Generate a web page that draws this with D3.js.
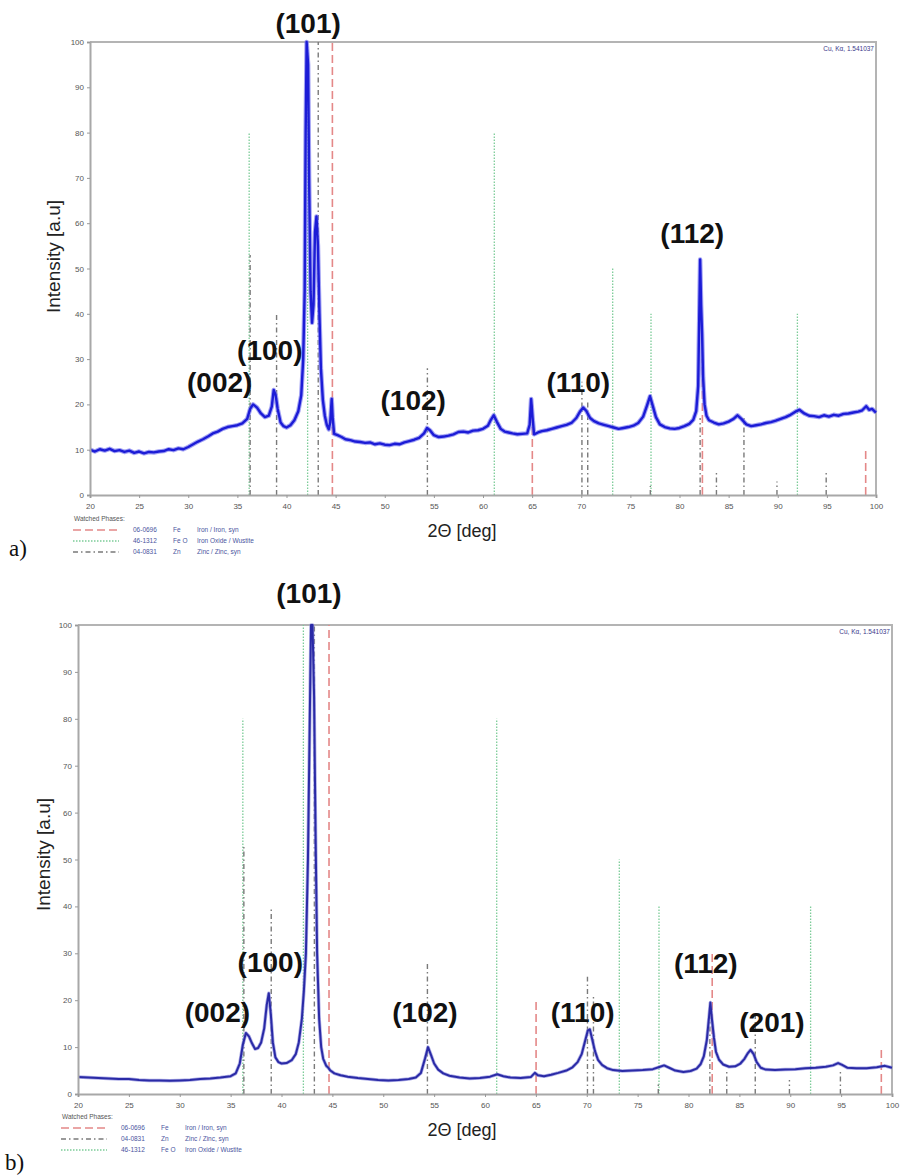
<!DOCTYPE html>
<html>
<head>
<meta charset="utf-8">
<script src="https://cdn.jsdelivr.net/npm/d3@7"></script>
<style>
  body { margin: 0; background: #fff; }
  svg { display: block; }
</style>
</head>
<body>
<div id="chart"></div>
<script>
// ---------------------------
// DATA
// ---------------------------

const thetaTicks = [20, 25, 30, 35, 40, 45, 50, 55, 60, 65, 70, 75, 80, 85, 90, 95, 100];
const intensityTicks = [0, 10, 20, 30, 40, 50, 60, 70, 80, 90, 100];

// sample a) scan : [2theta, intensity]
const scanA = [
  [20,10.0],[20.5,9.6],[21,10.1],[21.5,9.8],[22,10.2],[22.5,9.7],[23,9.9],[23.5,9.5],[24,9.8],[24.5,9.3],
  [25,9.6],[25.5,9.2],[26,9.5],[26.5,9.4],[27,9.6],[27.5,9.7],[28,10.1],[28.5,9.9],[29,10.3],[29.5,10.1],
  [30,10.6],[30.5,11.2],[31,11.8],[31.5,12.3],[32,12.9],[32.5,13.6],[33,14.0],[33.5,14.6],[34,15.0],[34.5,15.2],
  [35,15.4],[35.5,15.8],[36,16.8],[36.3,19.0],[36.6,20.0],[37,19.3],[37.4,18.0],[37.8,17.2],[38.2,17.5],[38.5,19.5],
  [38.7,23.2],[38.9,22.0],[39.1,19.0],[39.4,16.0],[39.7,15.2],[40,14.9],[40.4,15.4],[40.8,16.5],[41.2,18.5],[41.5,22],
  [41.7,30],[41.85,45],[41.95,80],[42.05,100],[42.2,95],[42.3,70],[42.45,45],[42.6,38],[42.75,42],[42.9,58],
  [43.05,61.5],[43.2,55],[43.35,40],[43.5,28],[43.7,21],[43.9,17.5],[44.1,15.5],[44.3,14.5],[44.45,16],[44.6,21.2],
  [44.7,17],[44.85,13.5],[45.2,13.2],[45.6,12.8],[46,12.3],[46.5,12.1],[47,11.8],[47.5,11.7],[48,11.5],[48.5,11.6],
  [49,11.2],[49.5,11.4],[50,11.1],[50.5,11.0],[51,11.3],[51.5,11.2],[52,11.6],[52.5,11.9],[53,12.2],[53.5,12.6],
  [54,13.6],[54.3,14.8],[54.6,14.3],[55,13.2],[55.5,12.8],[56,12.9],[56.5,13.1],[57,13.4],[57.5,13.9],[58,14.0],
  [58.5,13.8],[59,14.2],[59.5,14.3],[60,14.6],[60.5,15.3],[60.8,16.6],[61.1,17.6],[61.4,16.2],[61.8,14.6],[62.2,14.0],
  [62.6,13.8],[63,13.6],[63.5,13.4],[64,13.5],[64.5,13.6],[64.75,15.5],[64.9,21.2],[65.05,17],[65.2,13.4],[65.6,13.8],
  [66,14.1],[66.5,14.3],[67,14.6],[67.5,14.9],[68,15.2],[68.5,15.5],[69,15.9],[69.5,17.0],[69.9,18.5],[70.2,19.3],
  [70.5,18.6],[70.9,17.0],[71.3,16.3],[71.8,15.8],[72.3,15.5],[72.8,15.2],[73.3,14.9],[73.8,14.6],[74.3,14.8],[74.8,15.0],
  [75.3,15.3],[75.8,15.9],[76.3,17.3],[76.7,19.8],[77.0,21.8],[77.3,19.5],[77.6,17.2],[78,15.6],[78.5,15.0],[79,14.7],
  [79.5,14.6],[80,14.8],[80.5,15.2],[81,15.7],[81.4,16.6],[81.7,18.5],[81.9,24],[82.0,38],[82.1,52],[82.2,42],
  [82.3,35.5],[82.4,26],[82.55,20],[82.75,17.5],[83,16.5],[83.5,16],[84,15.6],[84.5,15.8],[85,16.2],[85.5,16.8],
  [85.9,17.6],[86.3,16.8],[86.8,15.6],[87.3,15.2],[87.8,15.4],[88.3,15.6],[88.8,15.9],[89.3,16.1],[89.8,16.4],[90.3,16.8],
  [90.8,17.2],[91.3,17.7],[91.8,18.4],[92.2,18.8],[92.7,18.0],[93.2,17.5],[93.7,17.4],[94.2,17.2],[94.7,17.6],[95.2,17.3],
  [95.7,17.7],[96.2,17.5],[96.7,17.9],[97.2,18.0],[97.7,18.2],[98.2,18.4],[98.6,18.7],[99,19.6],[99.3,18.8],[99.6,19.0],
  [100,18.2]
];

// sample b) scan
const scanB = [
  [20,3.6],[21,3.5],[22,3.4],[23,3.3],[24,3.2],[25,3.2],[26,3.0],[27,2.9],[28,2.9],[29,2.8],
  [30,2.9],[31,3.0],[32,3.2],[33,3.3],[34,3.5],[35,3.8],[35.5,4.4],[35.9,6.5],[36.2,10.5],[36.5,13.0],
  [36.8,12.3],[37.1,10.8],[37.4,9.6],[37.7,9.8],[38.0,11.0],[38.3,14],[38.55,19],[38.75,21.5],[38.95,17],[39.15,11],
  [39.4,7.8],[39.7,6.8],[40,6.5],[40.5,6.6],[41,7.2],[41.4,8.5],[41.7,11],[42.0,16],[42.2,22],[42.4,30],
  [42.6,50],[42.75,75],[42.9,100],[43.05,100],[43.2,85],[43.35,55],[43.5,30],[43.7,16],[43.9,10],[44.1,7.5],
  [44.4,6],[44.6,5.6],[44.8,5.0],[45.2,4.4],[45.8,4.0],[46.5,3.7],[47.5,3.4],[48.5,3.2],[49.5,3.0],[50.5,2.9],
  [51.5,3.0],[52.5,3.2],[53.2,3.5],[53.7,4.5],[54.1,7.5],[54.4,10.0],[54.7,8.3],[55.0,6.5],[55.4,5.2],[55.9,4.4],
  [56.5,3.9],[57.5,3.5],[58.5,3.3],[59.5,3.4],[60.5,3.7],[61.2,4.2],[61.8,3.8],[62.5,3.5],[63.5,3.4],[64.5,3.6],
  [64.9,4.5],[65.2,4.0],[65.8,3.8],[66.5,4.1],[67.2,4.5],[68,5.0],[68.6,5.7],[69.1,6.8],[69.5,8.5],[69.8,11],
  [70.1,13.5],[70.3,13.8],[70.5,12],[70.8,9.2],[71.1,7.3],[71.5,6.2],[72,5.5],[72.6,5.1],[73.5,4.9],[74.5,5.0],
  [75.5,5.1],[76.5,5.3],[77.2,5.8],[77.6,6.1],[78.1,5.6],[78.7,5.0],[79.5,4.7],[80.2,4.9],[80.8,5.4],[81.2,6.4],
  [81.5,8],[81.8,11.5],[82.0,16],[82.15,19.5],[82.3,16],[82.5,12],[82.7,9],[83,7.3],[83.4,6.3],[84,5.8],
  [84.6,5.9],[85.1,6.5],[85.5,7.5],[85.8,8.6],[86.1,9.4],[86.4,8.5],[86.7,6.8],[87.1,5.6],[87.6,5.2],[88.5,5.1],
  [89.5,5.2],[90.5,5.3],[91.5,5.5],[92.5,5.6],[93.5,5.8],[94.2,6.1],[94.7,6.6],[95.1,6.2],[95.6,5.6],[96.5,5.5],
  [97.5,5.5],[98.5,5.7],[99.3,6.0],[100,5.6]
];

// reference patterns (stick positions / relative intensity)
const feSticks  = [[44.67,100],[65.02,20],[82.33,30],[98.95,10]];
const znSticks  = [[36.30,53],[38.99,40],[43.23,100],[54.34,28],[70.07,25],[70.66,21],[77.03,2],
                   [82.10,17],[83.76,5],[86.56,17],[89.92,3],[94.93,5]];
const feoSticks = [[36.2,80],[42.15,100],[61.15,80],[73.2,50],[77.1,40],[92.0,40]];

// phase cards for the legends
const phaseFe  = { code: "06-0696", el: "Fe",   name: "Iron / Iron, syn" };
const phaseZn  = { code: "04-0831", el: "Zn",   name: "Zinc / Zinc, syn" };
const phaseFeO = { code: "46-1312", el: "Fe O", name: "Iron Oxide / Wustite" };

// Miller index labels: [text, 2theta, intensity level of baseline]
const hklA = [["(101)",42.2,102],["(100)",38.3,29.8],["(002)",33.2,22.7],["(102)",52.9,18.8],
              ["(110)",69.7,22.7],["(112)",81.3,55.6]];
const hklB = [["(101)",42.7,104.7],["(100)",38.9,26.0],["(002)",33.7,15.4],["(102)",54.1,15.4],
              ["(110)",69.6,15.4],["(112)",81.7,25.8],["(201)",88.2,13.2]];

// ---------------------------
// DRAWING
// ---------------------------

const svg = d3.select("#chart").append("svg")
  .attr("width", 900)
  .attr("height", 1176);

svg.append("rect").attr("width", 900).attr("height", 1176).attr("fill", "#fff");

const styles = {
  fe:  { color: "#e48888", width: 1.6, dash: "8,4" },
  feo: { color: "#7ccc98", width: 1.3, dash: "1.5,1.5" },
  zn:  { color: "#7a7a7a", width: 1.4, dash: "5,3,1.5,3" }
};

function drawPanel(p) {
  const x = d3.scaleLinear().domain([20, 100]).range([p.left, p.right]);
  const y = d3.scaleLinear().domain([0, 100]).range([p.bottom, p.top]);
  const g = svg.append("g");

  // frame (top + right)
  g.append("path")
    .attr("d", `M${p.left},${p.top}H${p.right}V${p.bottom}`)
    .attr("fill", "none")
    .attr("stroke", "#b4b4b4")
    .attr("stroke-width", 2);

  // reference sticks
  p.sticks.forEach(s => {
    g.append("g").selectAll("line")
      .data(s.data)
      .enter().append("line")
      .attr("x1", d => x(d[0])).attr("x2", d => x(d[0]))
      .attr("y1", y(0)).attr("y2", d => y(d[1]))
      .attr("stroke", styles[s.key].color)
      .attr("stroke-width", styles[s.key].width)
      .attr("stroke-dasharray", styles[s.key].dash);
  });

  // measured pattern
  const line = d3.line().x(d => x(d[0])).y(d => y(d[1]));
  g.append("path").datum(p.scan)
    .attr("d", line)
    .attr("fill", "none")
    .attr("stroke", p.halo)
    .attr("stroke-width", p.haloWidth)
    .attr("stroke-linejoin", "round")
    .attr("opacity", 0.7);
  g.append("path").datum(p.scan)
    .attr("d", line)
    .attr("fill", "none")
    .attr("stroke", p.color)
    .attr("stroke-width", p.lineWidth)
    .attr("stroke-linejoin", "round");

  // axes
  const yAxis = g.append("g")
    .attr("transform", `translate(${p.left},0)`)
    .call(d3.axisLeft(y).tickValues(intensityTicks).tickSize(3).tickPadding(3));
  const xAxis = g.append("g")
    .attr("transform", `translate(0,${p.bottom})`)
    .call(d3.axisBottom(x).tickValues(thetaTicks).tickSize(3).tickPadding(5));
  [yAxis, xAxis].forEach(a => {
    a.select(".domain").attr("stroke", "#a8a8a8").attr("stroke-width", 2);
    a.selectAll(".tick line").attr("stroke", "#999");
    a.selectAll("text")
      .attr("fill", "#555")
      .style("font-family", "Arial, 'Liberation Sans', sans-serif")
      .style("font-size", "8px");
  });

  // axis titles
  g.append("text")
    .attr("transform", `translate(${p.yTitleX},${(p.top + p.bottom) / 2 + p.yTitleShift}) rotate(-90)`)
    .attr("text-anchor", "middle")
    .style("font-family", "Arial, 'Liberation Sans', sans-serif")
    .style("font-size", "19px")
    .attr("fill", "#222")
    .text("Intensity [a.u]");

  g.append("text")
    .attr("x", 462)
    .attr("y", p.xTitleY)
    .attr("text-anchor", "middle")
    .style("font-family", "Arial, 'Liberation Sans', sans-serif")
    .style("font-size", "18px")
    .attr("fill", "#222")
    .text("2Θ [deg]");

  // radiation note
  g.append("text")
    .attr("x", p.right - 2)
    .attr("y", p.top + 9)
    .attr("text-anchor", "end")
    .style("font-family", "Arial, 'Liberation Sans', sans-serif")
    .style("font-size", "6.5px")
    .attr("fill", "#3a3a8a")
    .text("Cu, Kα, 1.541037");

  // hkl labels
  g.append("g").selectAll("text")
    .data(p.hkl)
    .enter().append("text")
    .attr("x", d => x(d[1]))
    .attr("y", d => y(d[2]))
    .attr("text-anchor", "middle")
    .style("font-family", "Arial, 'Liberation Sans', sans-serif")
    .style("font-weight", "bold")
    .style("font-size", "28px")
    .attr("fill", "#111")
    .text(d => d[0]);

  // watched phases legend
  const lg = g.append("g").attr("transform", `translate(${p.legendX},${p.legendY})`);
  lg.append("text")
    .attr("x", 1).attr("y", 2)
    .style("font-family", "Arial, 'Liberation Sans', sans-serif")
    .style("font-size", "6.5px")
    .attr("fill", "#555")
    .text("Watched Phases:");
  p.legend.forEach((row, i) => {
    const ry = 13 + i * 11;
    const st = styles[row.key];
    lg.append("line")
      .attr("x1", 0).attr("x2", 46)
      .attr("y1", ry - 2).attr("y2", ry - 2)
      .attr("stroke", st.color)
      .attr("stroke-width", st.width)
      .attr("stroke-dasharray", st.dash);
    [[row.phase.code, 60], [row.phase.el, 100], [row.phase.name, 124]].forEach(([t, tx]) => {
      lg.append("text")
        .attr("x", tx).attr("y", ry)
        .style("font-family", "Arial, 'Liberation Sans', sans-serif")
        .style("font-size", "6.5px")
        .attr("fill", "#4a55a0")
        .text(t);
    });
  });

  // panel letter
  g.append("text")
    .attr("x", p.letterX)
    .attr("y", p.letterY)
    .style("font-family", "'Liberation Serif', 'DejaVu Serif', serif")
    .style("font-size", "23px")
    .attr("fill", "#111")
    .text(p.letter);
}

drawPanel({
  left: 90, right: 876, top: 42, bottom: 495,
  scan: scanA, color: "#1c1cd6", halo: "#7c7cf0", lineWidth: 2.4, haloWidth: 4.5,
  sticks: [{ key: "feo", data: feoSticks }, { key: "zn", data: znSticks }, { key: "fe", data: feSticks }],
  hkl: hklA,
  yTitleX: 60, yTitleShift: -12, xTitleY: 537,
  legendX: 73, legendY: 519,
  legend: [{ key: "fe", phase: phaseFe }, { key: "feo", phase: phaseFeO }, { key: "zn", phase: phaseZn }],
  letter: "a)", letterX: 9, letterY: 556
});

drawPanel({
  left: 78, right: 892, top: 625, bottom: 1094,
  scan: scanB, color: "#2a2aa6", halo: "#8a8adc", lineWidth: 2.0, haloWidth: 3.5,
  sticks: [{ key: "feo", data: feoSticks }, { key: "zn", data: znSticks }, { key: "fe", data: feSticks }],
  hkl: hklB,
  yTitleX: 50, yTitleShift: -5, xTitleY: 1136,
  legendX: 61, legendY: 1117,
  legend: [{ key: "fe", phase: phaseFe }, { key: "zn", phase: phaseZn }, { key: "feo", phase: phaseFeO }],
  letter: "b)", letterX: 5, letterY: 1170
});
</script>
</body>
</html>
